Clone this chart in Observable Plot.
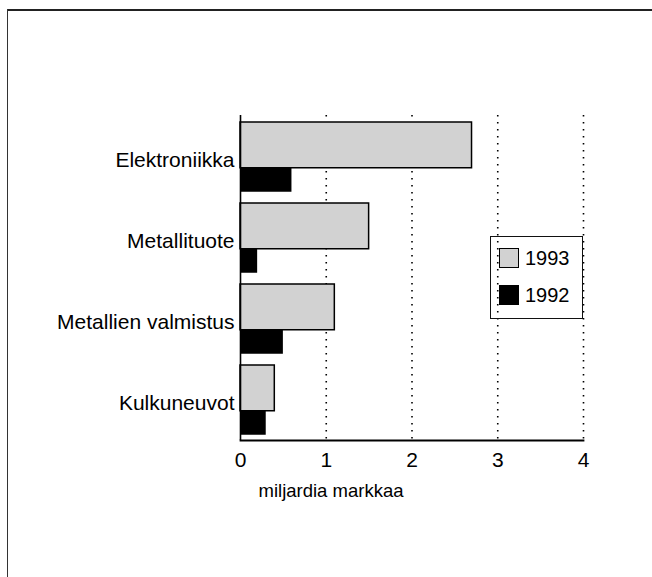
<!DOCTYPE html>
<html>
<head>
<meta charset="utf-8">
<script src="https://cdn.jsdelivr.net/npm/d3@7"></script>
<script src="https://cdn.jsdelivr.net/npm/@observablehq/plot@0.6"></script>
<style>
  html, body { margin: 0; padding: 0; background: #fff; }
  #wrap { position: relative; width: 652px; height: 577px; overflow: hidden; font-family: "Liberation Sans", Arial, Helvetica, sans-serif; color: #000; }
  #wrap svg { position: absolute; left: 0; top: 0; }
  .bt { position: absolute; left: 7px; top: 9px; width: 660px; height: 0; border-top: 2px solid #222; }
  .bl { position: absolute; left: 7px; top: 9px; width: 0; height: 580px; border-left: 1.5px solid #333; }
  #legend { position: absolute; left: 490px; top: 236px; width: 91px; height: 81px; border: 1.5px solid #111; }
  .item { position: absolute; left: 8px; height: 20px; display: flex; align-items: center; font-size: 20px; line-height: 20px; }
  .sw { width: 18px; height: 18px; border: 1.2px solid #000; margin-right: 6px; box-sizing: content-box; }
</style>
</head>
<body>
<div id="wrap">
  <div class="bt"></div>
  <div class="bl"></div>
</div>
<script>
const categories = ["Elektroniikka", "Metallituote", "Metallien valmistus", "Kulkuneuvot"];
const years = ["1993", "1992"];
const values1993 = [2.7, 1.5, 1.1, 0.4];
const values1992 = [0.6, 0.2, 0.5, 0.3];
const xTicks = [0, 1, 2, 3, 4];
const axisTitle = "miljardia markkaa";
const yearColors = ["#d2d2d2", "#000000"];

const rows = [];
categories.forEach((c, i) => {
  rows.push({category: c, year: years[0], value: values1993[i]});
  rows.push({category: c, year: years[1], value: values1992[i]});
});

const W = 652, H = 577;
const mL = 240, mR = 69, mT = 115, mB = 137;
const band = (H - mT - mB) / categories.length;

const chart = Plot.plot({
  width: W,
  height: H,
  marginLeft: mL,
  marginRight: mR,
  marginTop: mT,
  marginBottom: mB,
  style: {fontFamily: '"Liberation Sans", Arial, Helvetica, sans-serif', fontSize: "20px", color: "#000", background: "transparent", overflow: "visible"},
  x: {domain: [0, 4]},
  y: {type: "band", domain: categories, padding: 0},
  marks: [
    Plot.ruleX(xTicks.filter(d => d > 0), {stroke: "#000", strokeWidth: 1.6, strokeDasharray: "1.6,5.4"}),
    Plot.barX(rows.filter(d => d.year === years[0]), {
      x: "value", y: "category", fill: yearColors[0], stroke: "#000", strokeWidth: 1.5,
      insetTop: 6, insetBottom: band - 52
    }),
    Plot.barX(rows.filter(d => d.year === years[1]), {
      x: "value", y: "category", fill: yearColors[1],
      insetTop: 52, insetBottom: band - 76
    }),
    Plot.ruleX([0], {stroke: "#000", strokeWidth: 1.6}),
    Plot.frame({anchor: "bottom", stroke: "#000", strokeWidth: 1.8}),
    Plot.axisY({tickSize: 0, tickPadding: 6, fontSize: 21, dy: 3, label: null}),
    Plot.axisX({ticks: xTicks, tickFormat: d3.format("d"), tickSize: 0, tickPadding: 12, fontSize: 21, label: null}),
    Plot.text([axisTitle], {frameAnchor: "bottom", lineAnchor: "top", dx: -81, dy: 43, fontSize: 18.5, fill: "#000"})
  ]
});

const wrap = document.getElementById("wrap");
wrap.insertBefore(chart, wrap.firstChild);

const legend = document.createElement("div");
legend.id = "legend";
years.forEach((y, i) => {
  const item = document.createElement("div");
  item.className = "item";
  item.style.top = (i === 0 ? 11 : 48) + "px";
  const sw = document.createElement("div");
  sw.className = "sw";
  sw.style.background = yearColors[i];
  const t = document.createElement("span");
  t.textContent = y;
  item.appendChild(sw);
  item.appendChild(t);
  legend.appendChild(item);
});
wrap.appendChild(legend);
</script>
</body>
</html>
